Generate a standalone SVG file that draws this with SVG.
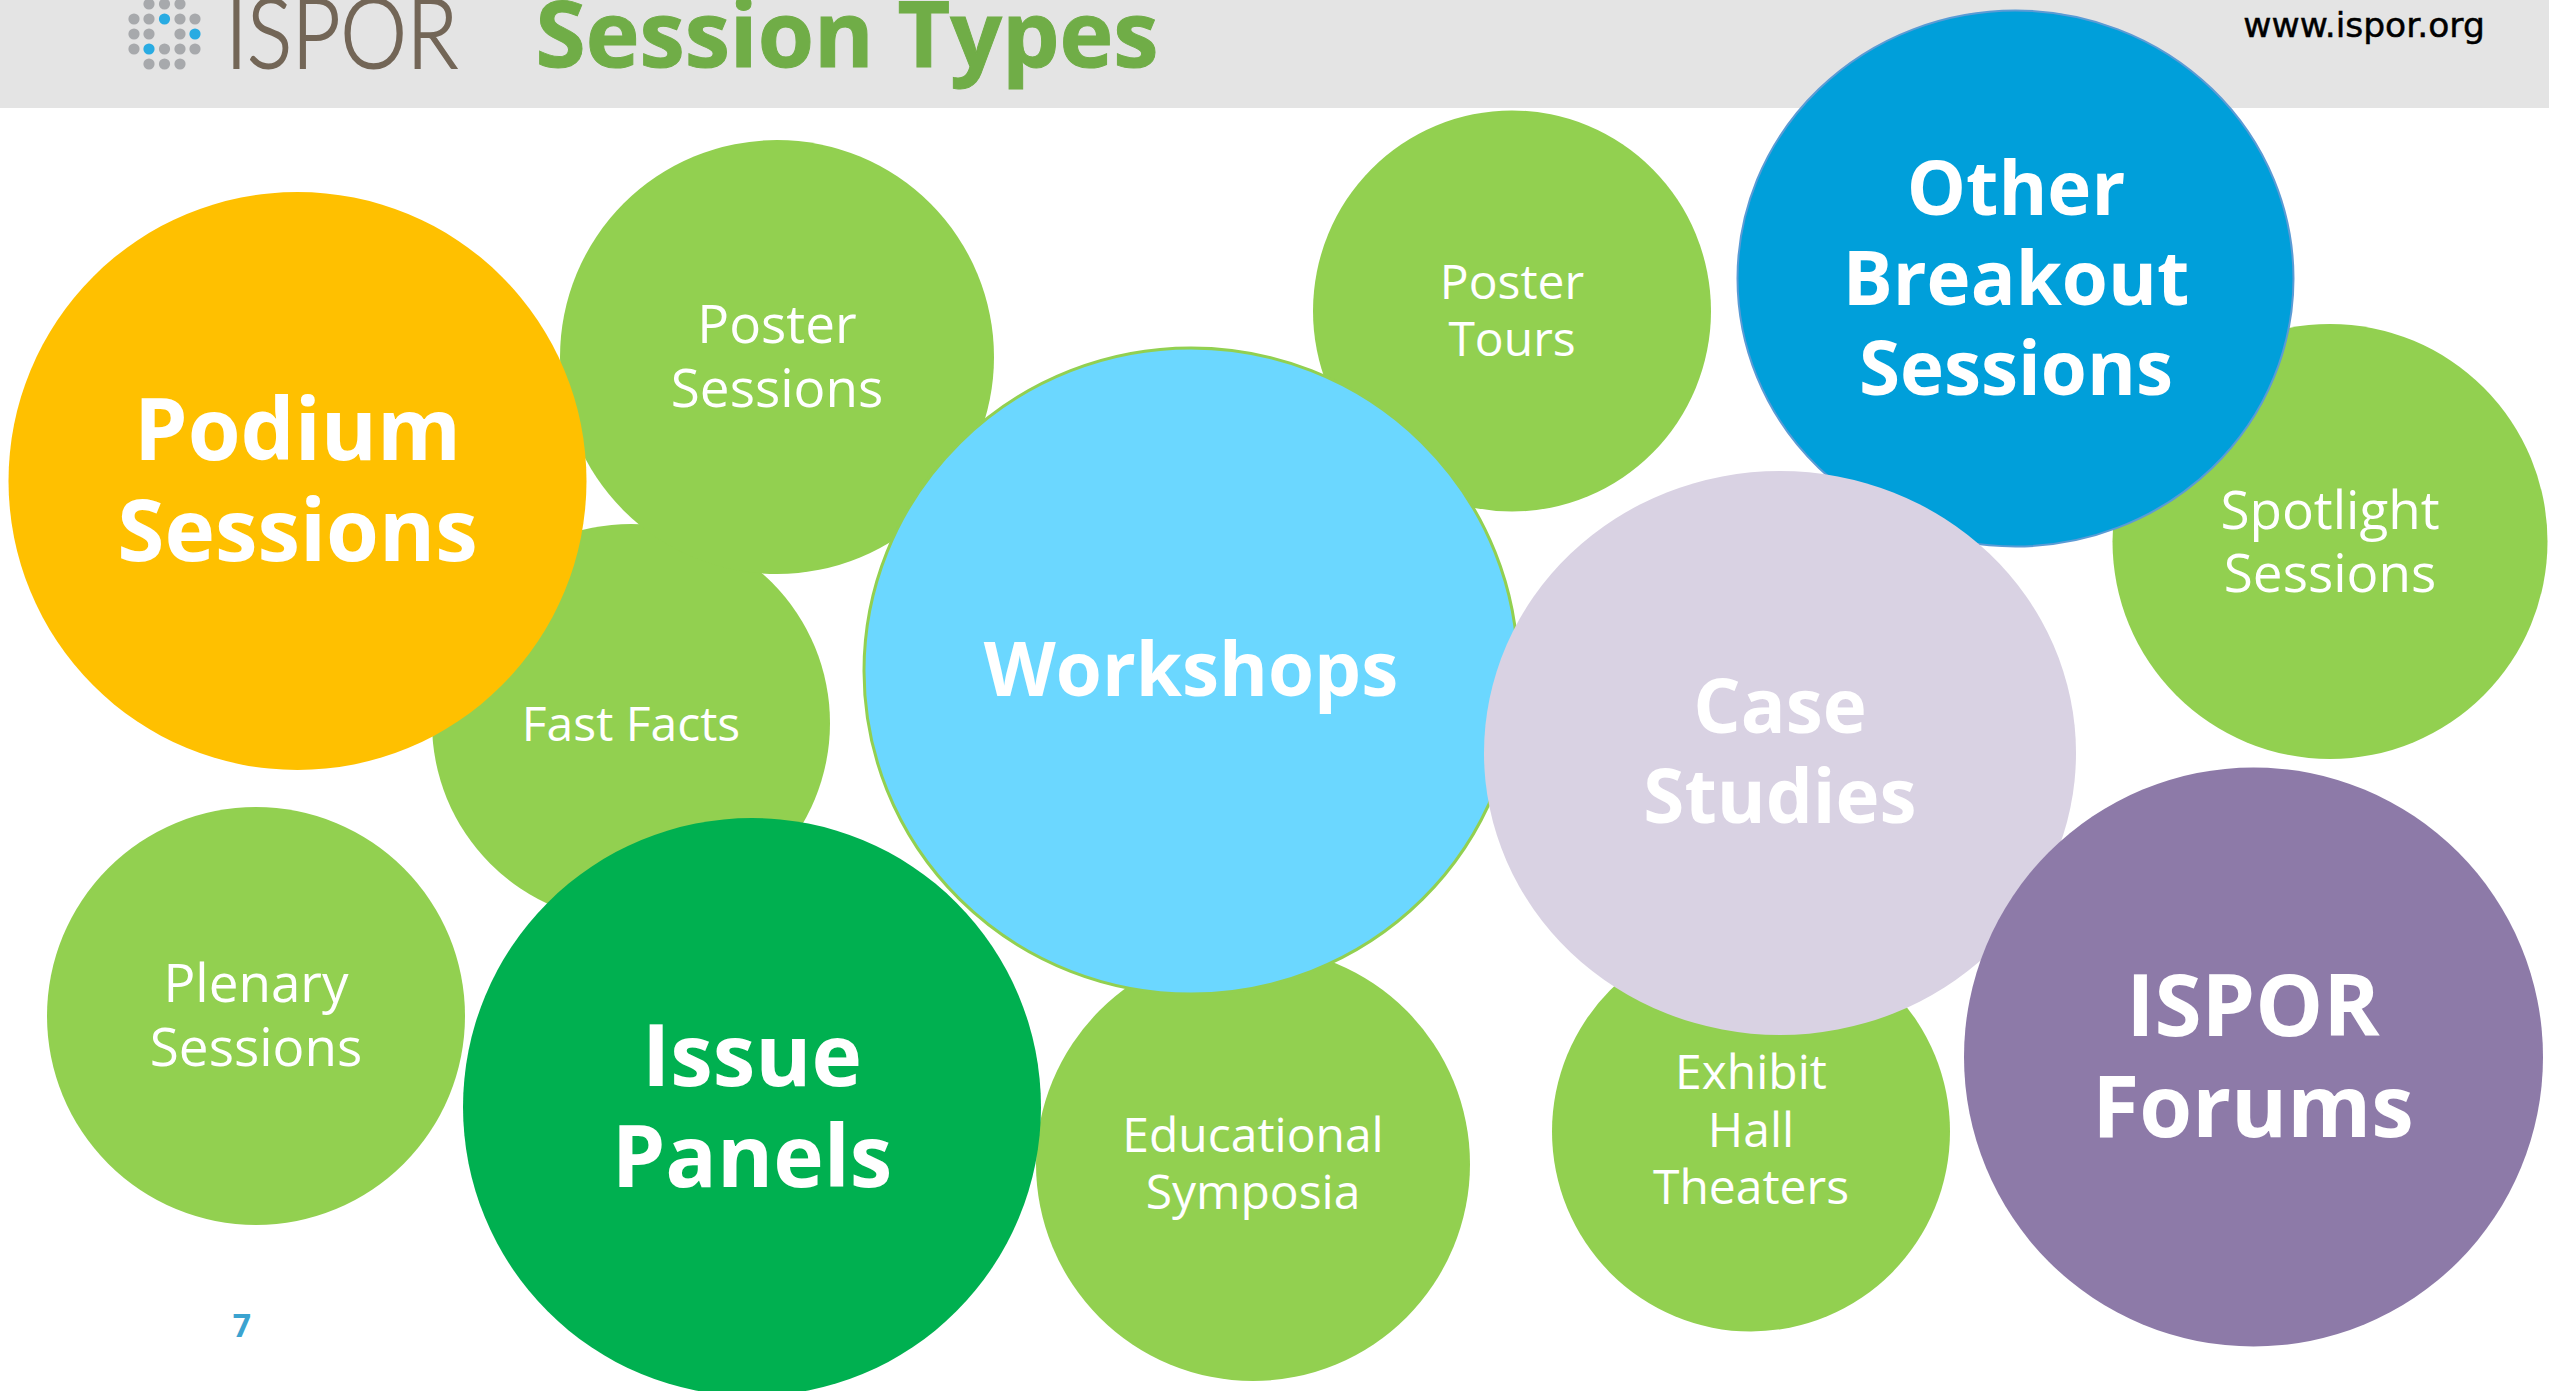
<svg xmlns="http://www.w3.org/2000/svg" width="2549" height="1391" viewBox="0 0 2549 1391">
<style>
text{font-family:"Open Sans","Noto Sans","Liberation Sans",sans-serif;fill:#fff;text-anchor:middle}
.sm{font-size:53px}
.xs{font-size:48px}
.lg{font-size:85.500px;font-weight:700}
.md{font-size:74.500px;font-weight:700}
.g{fill:#92D050}
.d{fill:#A7A9AC}
.b{fill:#29ABE2}
</style>
<rect id="header" width="2549" height="108" fill="#E4E4E4"/>
<g id="logo">
<circle class="d" cx="149" cy="4" r="5.6"/><circle class="d" cx="164.500" cy="4" r="5.6"/><circle class="d" cx="180" cy="4" r="5.6"/>
<circle class="d" cx="134" cy="19" r="5.6"/><circle class="d" cx="149" cy="19" r="5.6"/><circle class="b" cx="164.500" cy="19" r="5.6"/><circle class="d" cx="180" cy="19" r="5.6"/><circle class="d" cx="195" cy="19" r="5.6"/>
<circle class="d" cx="134" cy="34" r="5.6"/><circle class="d" cx="149" cy="34" r="5.6"/><circle class="d" cx="180" cy="34" r="5.6"/><circle class="b" cx="195" cy="34" r="5.6"/>
<circle class="d" cx="134" cy="49" r="5.6"/><circle class="b" cx="149" cy="49" r="5.6"/><circle class="d" cx="164.500" cy="49" r="5.6"/><circle class="d" cx="180" cy="49" r="5.6"/><circle class="d" cx="195" cy="49" r="5.6"/>
<circle class="d" cx="149" cy="64" r="5.6"/><circle class="d" cx="164.500" cy="64" r="5.6"/><circle class="d" cx="180" cy="64" r="5.6"/>
<text x="341.500" y="68" style="font-family:'Lato','Open Sans',sans-serif;font-weight:300;font-size:96px;fill:#736657;stroke:#736657;stroke-width:2" textLength="232" lengthAdjust="spacingAndGlyphs">ISPOR</text>
</g>
<text id="title" x="847" y="67" style="font-size:91px;font-weight:700;fill:#70AD47;stroke:#70AD47;stroke-width:1">Session Types</text>
<text id="url" x="2364" y="37" style="font-family:'DejaVu Sans',sans-serif;font-size:34.500px;fill:#000;stroke:#000;stroke-width:.5">www.ispor.org</text>
<g id="connectors"></g>
<g id="fast-facts"><circle class="g" cx="631" cy="723" r="199"/><text class="xs" x="631" y="741">Fast Facts</text></g>
<g id="poster-sessions"><circle class="g" cx="777" cy="357" r="217"/><text class="sm" x="777" y="343">Poster</text><text class="sm" x="777" y="407">Sessions</text></g>
<g id="plenary-sessions"><circle class="g" cx="256" cy="1016" r="209"/><text class="sm" x="256" y="1002">Plenary</text><text class="sm" x="256" y="1066">Sessions</text></g>
<g id="podium-sessions"><circle cx="297.500" cy="481" r="289" fill="#FFC000"/><text class="lg" x="297.500" y="460">Podium</text><text class="lg" x="297.500" y="561">Sessions</text></g>
<g id="educational-symposia"><circle class="g" cx="1253" cy="1164" r="217"/><text class="xs" x="1253" y="1151.500">Educational</text><text class="xs" x="1253" y="1208.500">Symposia</text></g>
<g id="issue-panels"><circle cx="752" cy="1107" r="289" fill="#00B050"/><text class="lg" x="752" y="1086">Issue</text><text class="lg" x="752" y="1187">Panels</text></g>
<g id="poster-tours"><ellipse class="g" cx="1512" cy="311" rx="199" ry="200.500"/><text class="xs" x="1512" y="299">Poster</text><text class="xs" x="1512" y="356">Tours</text></g>
<g id="workshops"><ellipse cx="1191" cy="671" rx="327" ry="323" fill="#6BD7FF" stroke="#92D050" stroke-width="3"/><text class="md" x="1191" y="696">Workshops</text></g>
<g id="exhibit-hall-theaters"><ellipse class="g" cx="1751" cy="1131.500" rx="199" ry="200"/><text class="xs" x="1751" y="1089">Exhibit</text><text class="xs" x="1751" y="1147">Hall</text><text class="xs" x="1751" y="1204">Theaters</text></g>
<g id="spotlight-sessions"><circle class="g" cx="2330" cy="541.500" r="217.500"/><text class="sm" x="2330" y="529">Spotlight</text><text class="sm" x="2330" y="592">Sessions</text></g>
<g id="other-breakout-sessions"><ellipse cx="2015.500" cy="278.500" rx="278" ry="268" fill="#009FDA" stroke="#5B9BD5" stroke-width="2"/><text class="md" x="2016" y="215">Other</text><text class="md" x="2016" y="305">Breakout</text><text class="md" x="2016" y="395">Sessions</text></g>
<g id="case-studies"><ellipse cx="1780" cy="753" rx="296" ry="282" fill="#D9D2E3"/><text class="md" x="1780" y="733">Case</text><text class="md" x="1780" y="823">Studies</text></g>
<g id="ispor-forums"><circle cx="2253.500" cy="1057" r="289.500" fill="#8D7AA8"/><text class="lg" x="2253" y="1036">ISPOR</text><text class="lg" x="2253" y="1137">Forums</text></g>
<text id="page-number" x="242" y="1337" style="font-size:32px;font-weight:700;fill:#3BA3D0">7</text>
</svg>
